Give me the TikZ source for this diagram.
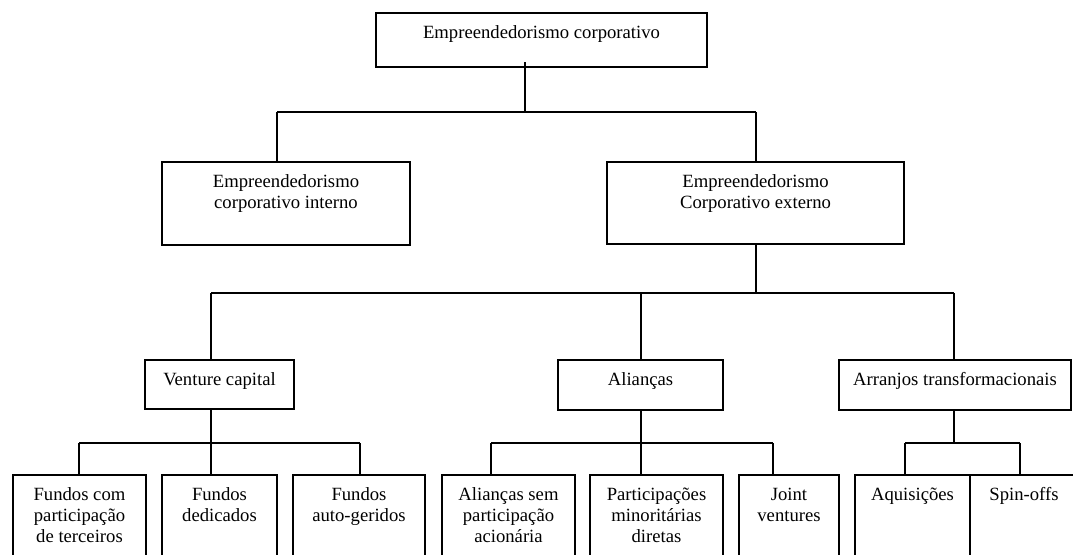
\documentclass[tikz,border=0pt]{standalone}
\usepackage{fontspec}
\setmainfont{Liberation Serif}
\newdimen\pxu \pxu=0.75pt
\tikzset{
  box/.style={draw, line width=1pt, inner sep=0pt, outer sep=0pt,
    font=\fontsize{14pt}{15.8pt}\selectfont},
  link/.style={line width=1pt},
}
% box whose text hangs from the top edge: name, x1, y1, x2, y2, text
\newcommand\orgbox[6]{%
  \node[box] (#1) at ({(#2+#4)/2},{(#3+#5)/2})
    {\parbox[c][\dimexpr #5\pxu-#3\pxu\relax][t]{\dimexpr #4\pxu-#2\pxu\relax}%
      {\centering\rule{0pt}{25\pxu}#6}};}
\begin{document}
\begin{tikzpicture}[x=0.75pt, y=-0.75pt]
\useasboundingbox (0,0) rectangle (1073,554);
\clip (0,0) rectangle (1073,554);

% boxes
\orgbox{top}{376}{13}{707}{67}{Empreendedorismo corporativo}
\orgbox{ie}{162}{162}{410}{245}{Empreendedorismo\\corporativo interno}
\orgbox{ee}{607}{162}{904}{244}{Empreendedorismo\\Corporativo externo}
\orgbox{vc}{145}{360}{294}{409}{Venture capital}
\orgbox{al}{558}{360}{723}{410}{Alianças}
\orgbox{at}{839}{360}{1071}{410}{Arranjos transformacionais}
\orgbox{f1}{13}{475}{146}{575}{\rule{0pt}{2\pxu}Fundos com\\participação\\de terceiros}
\orgbox{f2}{162}{475}{277}{575}{\rule{0pt}{2\pxu}Fundos\\dedicados}
\orgbox{f3}{293}{475}{425}{575}{\rule{0pt}{2\pxu}Fundos\\auto-geridos}
\orgbox{a1}{442}{475}{575}{575}{\rule{0pt}{2\pxu}Alianças sem\\participação\\acionária}
\orgbox{a2}{590}{475}{723}{575}{\rule{0pt}{2\pxu}Participações\\minoritárias\\diretas}
\orgbox{a3}{739}{475}{839}{575}{\rule{0pt}{2\pxu}Joint\\ventures}
\orgbox{t1}{855}{475}{970}{575}{\rule{0pt}{2\pxu}Aquisições}
\orgbox{t2}{970}{475}{1078}{575}{\rule{0pt}{2\pxu}Spin-offs}

% junction points of the tree
\coordinate (s0) at (525,62);
\coordinate (h0l) at (277,112);
\coordinate (h0) at (525,112);
\coordinate (h0r) at (756,112);
\coordinate (h1l) at (211,293);
\coordinate (h1m) at (641,293);
\coordinate (h1) at (756,293);
\coordinate (h1r) at (954,293);
\coordinate (v1) at (79,443);
\coordinate (v2) at (211,443);
\coordinate (v3) at (360,443);
\coordinate (w1) at (491,443);
\coordinate (w2) at (641,443);
\coordinate (w3) at (773,443);
\coordinate (u1) at (905,443);
\coordinate (u0) at (954,443);
\coordinate (u2) at (1020,443);

% top level
\draw[link] (s0) -- (h0);
\draw[link] (h0l) -- (h0r);
\draw[link] (h0l) -- (h0l |- ie.north);
\draw[link] (h0r) -- (h0r |- ee.north);

% external entrepreneurship branches
\draw[link] (ee.south -| h1) -- (h1);
\draw[link] (h1l) -- (h1r);
\draw[link] (h1l) -- (h1l |- vc.north);
\draw[link] (h1m) -- (h1m |- al.north);
\draw[link] (h1r) -- (h1r |- at.north);

% venture capital
\draw[link] (vc.south -| v2) -- (v2);
\draw[link] (v1) -- (v3);
\draw[link] (v1) -- (v1 |- f1.north);
\draw[link] (v2) -- (v2 |- f2.north);
\draw[link] (v3) -- (v3 |- f3.north);

% alliances
\draw[link] (al.south -| w2) -- (w2);
\draw[link] (w1) -- (w3);
\draw[link] (w1) -- (w1 |- a1.north);
\draw[link] (w2) -- (w2 |- a2.north);
\draw[link] (w3) -- (w3 |- a3.north);

% transformational arrangements
\draw[link] (at.south -| u0) -- (u0);
\draw[link] (u1) -- (u2);
\draw[link] (u1) -- (u1 |- t1.north);
\draw[link] (u2) -- (u2 |- t2.north);
\end{tikzpicture}
\end{document}
